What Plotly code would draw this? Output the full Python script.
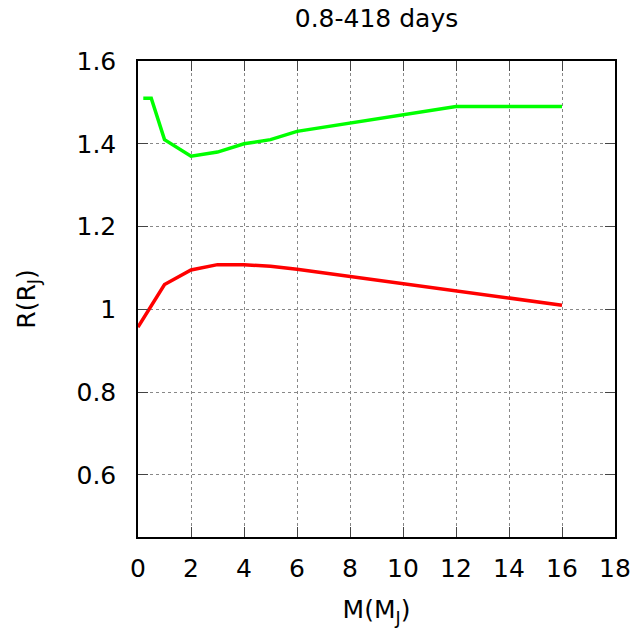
import plotly.graph_objects as go

# Data
green_x = [0.2, 0.5, 1, 2, 3, 4, 5, 6, 12, 16]
green_y = [1.51, 1.51, 1.41, 1.37, 1.38, 1.40, 1.41, 1.43, 1.49, 1.49]
red_x = [0, 1, 2, 3, 4, 5, 6, 16]
red_y = [0.957, 1.06, 1.095, 1.108, 1.108, 1.104, 1.097, 1.01]

x_ticks = [0, 2, 4, 6, 8, 10, 12, 14, 16, 18]
y_ticks = [0.6, 0.8, 1.0, 1.2, 1.4, 1.6]
y_ticktext = ["0.6", "0.8", "1", "1.2", "1.4", "1.6"]

title_text = "0.8-418 days"
x_title = "M(M<sub>J</sub>)"
y_title = "R(R<sub>J</sub>)"

fig = go.Figure()
fig.add_trace(go.Scatter(x=green_x, y=green_y, mode="lines",
                         line=dict(color="#00ff00", width=3.5), showlegend=False))
fig.add_trace(go.Scatter(x=red_x, y=red_y, mode="lines",
                         line=dict(color="#ff0000", width=3.5), showlegend=False))

font = "DejaVu Sans"
axis_common = dict(
    showline=True, linecolor="black", linewidth=1.5, mirror="ticks",
    ticks="inside", ticklen=10, tickcolor="#444", tickwidth=1,
    showgrid=True, gridcolor="#888", griddash="dot", gridwidth=1,
    zeroline=False, automargin=False,
    tickfont=dict(family=font, size=25, color="black"),
)

fig.update_layout(
    width=635, height=632,
    margin=dict(l=138, r=20, t=61, b=95),
    plot_bgcolor="white", paper_bgcolor="white",
    title=dict(text=title_text, x=0.5, xanchor="center", y=0.971, yanchor="middle",
               xref="paper",
               font=dict(family=font, size=25, color="black")),
    xaxis=dict(range=[0, 18], tickvals=x_ticks, ticklabelstandoff=8,
               title=dict(text=x_title, font=dict(family=font, size=25, color="black"), standoff=19),
               **axis_common),
    yaxis=dict(range=[0.45, 1.6], tickvals=y_ticks, ticktext=y_ticktext, ticklabelstandoff=15,
               title=dict(text=y_title, font=dict(family=font, size=25, color="black"), standoff=34),
               **axis_common),
)

fig.write_html("out.html")
